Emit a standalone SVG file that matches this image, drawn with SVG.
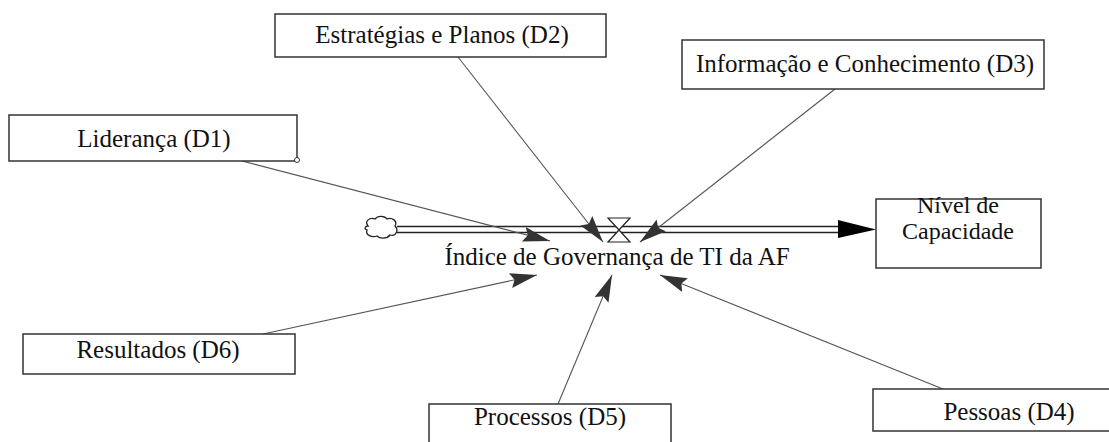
<svg xmlns="http://www.w3.org/2000/svg" width="1109" height="442" viewBox="0 0 1109 442">
<defs>
<style>
.box{fill:#fff;stroke:#333;stroke-width:1.5}
.link{fill:none;stroke:#555;stroke-width:1.1}
.pipe{fill:none;stroke:#222;stroke-width:1.3}
</style>
<marker id="ah" markerUnits="userSpaceOnUse" markerWidth="28" markerHeight="18" refX="27" refY="9" orient="auto">
<path d="M0,1.5 L27,9 L0,16.5 L4,9 Z" fill="#333"/>
</marker>
</defs>
<rect width="1109" height="442" fill="#fff"/>
<g id="connectors">
<line class="pipe" x1="397" y1="226.5" x2="850" y2="226.5"/>
<line class="pipe" x1="397" y1="232.5" x2="850" y2="232.5"/>
<path d="M838,220 L876,229.5 L838,238 Z" fill="#000"/>
<line class="link" x1="242" y1="161" x2="550" y2="241" marker-end="url(#ah)"/>
<line class="link" x1="458" y1="57" x2="603" y2="242" marker-end="url(#ah)"/>
<line class="link" x1="835" y1="89" x2="640" y2="242" marker-end="url(#ah)"/>
<line class="link" x1="263" y1="334" x2="537" y2="275" marker-end="url(#ah)"/>
<line class="link" x1="558" y1="404" x2="612" y2="275" marker-end="url(#ah)"/>
<line class="link" x1="943" y1="389" x2="660" y2="275" marker-end="url(#ah)"/>
</g>
<g id="cloud">
<path d="M368,226 C364,221 370,217 375,219 C378,215 385,216 387,219 C392,217 398,221 395,226 C399,230 396,237 390,235 C387,239 380,239 377,236 C372,238 365,235 367,230 C364,229 365,226 368,226 Z" fill="#fff" stroke="#222" stroke-width="1.3"/>
</g>
<g id="valve">
<path d="M608,218 L630,218 L608,242 L630,242 Z" fill="#fff" stroke="#222" stroke-width="1.2"/>
</g>
<g font-family="Liberation Serif" font-size="25" fill="#111" text-anchor="middle">
<g id="flow-label">
<text x="617" y="265">Índice de Governança de TI da AF</text>
</g>
<g id="d1">
<rect class="box" x="9" y="115" width="288" height="46"/>
<text x="154" y="147">Liderança (D1)</text>
<circle cx="297" cy="160" r="2.5" fill="#fff" stroke="#333" stroke-width="1"/>
</g>
<g id="d2">
<rect class="box" x="275" y="14" width="331" height="43"/>
<text x="442" y="43">Estratégias e Planos (D2)</text>
</g>
<g id="d3">
<rect class="box" x="682" y="40" width="362" height="49"/>
<text x="865" y="72">Informação e Conhecimento (D3)</text>
</g>
<g id="nivel">
<rect class="box" x="876" y="199" width="165" height="69"/>
<text x="958" y="213" font-size="24">Nível de</text>
<text x="958" y="239" font-size="24">Capacidade</text>
</g>
<g id="d6">
<rect class="box" x="23" y="334" width="272" height="40"/>
<text x="158" y="358">Resultados (D6)</text>
</g>
<g id="d5">
<rect class="box" x="429" y="404" width="242" height="50"/>
<text x="550" y="425">Processos (D5)</text>
</g>
<g id="d4">
<rect class="box" x="873" y="389" width="250" height="42"/>
<text x="1009" y="420">Pessoas (D4)</text>
</g>
</g>
</svg>
